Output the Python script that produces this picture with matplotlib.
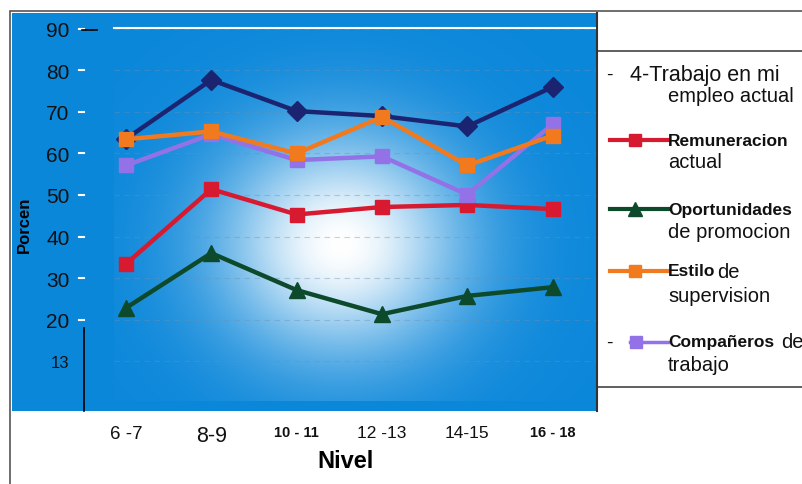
import numpy as np
import matplotlib
matplotlib.use("Agg")
import matplotlib.pyplot as plt
from matplotlib.lines import Line2D
from matplotlib.patches import Rectangle
import matplotlib.transforms as mtransforms

plt.rcParams['font.family'] = ['Liberation Sans', 'DejaVu Sans']

categories = ["6 -7", "8-9", "10 - 11", "12 -13", "14-15", "16 - 18"]
bold_cats = [False, False, True, False, False, True]
cat_sizes = [13.5, 15.5, 10.5, 12.5, 12.5, 10.5]
trabajo = [63.5, 77.7, 70.2, 69.0, 66.5, 76.0]
remuneracion = [33.4, 51.4, 45.3, 47.1, 47.6, 46.6]
oportunidades = [22.8, 36.0, 27.1, 21.3, 25.7, 27.8]
estilo = [63.4, 65.3, 60.0, 68.8, 57.1, 64.3]
companeros = [57.1, 64.6, 58.4, 59.3, 50.1, 67.0]
yticks = [10, 20, 30, 40, 50, 60, 70, 80, 90]
ytick_labels = ["13", "20", "30", "40", "50", "60", "70", "80", "90"]

BLUE = "#0b87da"
NAVY = "#1b2470"
RED = "#d81a30"
GREEN = "#0d4a2c"
ORANGE = "#f27a1e"
PURPLE = "#9272e6"

W, H = 803, 485
fig = plt.figure(figsize=(W / 100, H / 100), dpi=100)
fig.patch.set_facecolor("white")

def fx(x):
    return x / W

def fy(y):
    return 1 - y / H

# outer frame
fig.add_artist(Rectangle((fx(10), fy(490)), fx(800), fy(12) - fy(490), transform=fig.transFigure,
                         facecolor="none", edgecolor="#555555", lw=1.2))
# blue panel
bg = fig.add_axes([fx(12), fy(412), fx(597 - 12), fy(14) - fy(412)])
bg.set_facecolor(BLUE)
bg.set_xticks([]); bg.set_yticks([])
for s in bg.spines.values():
    s.set_visible(False)

ax = fig.add_axes([fx(114), fy(402), fx(597 - 114), fy(29) - fy(402)])
ax.set_facecolor(BLUE)

# radial gradient
nx, ny = 400, 300
xx, yy = np.meshgrid(np.linspace(0, 1, nx), np.linspace(0, 1, ny))
cx, cy = 0.47, 0.42
w = np.exp(-(((xx - cx) / 0.36) ** 2 + ((yy - cy) / 0.42) ** 2) * 2.0)
base = np.array(matplotlib.colors.to_rgb(BLUE))
img = base[None, None, :] * (1 - w[..., None]) + np.ones(3)[None, None, :] * w[..., None]
ax.imshow(img, extent=[0, 1, 0, 1], transform=ax.transAxes, origin="lower",
          aspect="auto", zorder=0)

x = np.arange(len(categories))
ax.set_xlim(-0.14, 5.52)
ax.set_ylim(0.4, 90.2)

for yv in yticks:
    ax.axhline(yv, color="#6f8fb0", lw=0.8, ls=(0, (5, 4)), alpha=0.4, zorder=1)

ax.plot(x, trabajo, color=NAVY, lw=3.2, marker="D", ms=10, zorder=3)
ax.plot(x, oportunidades, color=GREEN, lw=3.2, marker="^", ms=11, zorder=3)
ax.plot(x, remuneracion, color=RED, lw=3.2, marker="s", ms=10, zorder=4)
ax.plot(x, companeros, color=PURPLE, lw=3.2, marker="s", ms=10, zorder=4)
ax.plot(x, estilo, color=ORANGE, lw=3.2, marker="s", ms=10, zorder=5)

ax.set_xticks(x)
ax.set_xticklabels(categories)
for lab, b, fsz in zip(ax.get_xticklabels(), bold_cats, cat_sizes):
    lab.set_fontsize(fsz)
    if b:
        lab.set_fontweight("bold")
ax.tick_params(axis="x", length=0, pad=17, colors="#111111")
ax.set_yticks(yticks)
ax.set_yticklabels(ytick_labels)
for lab in ax.get_yticklabels():
    lab.set_fontsize(15 if lab.get_text() != "13" else 12)
ax.tick_params(axis="y", length=0, pad=32, colors="#111111")
for k, s in ax.spines.items():
    s.set_visible(False)
ax.plot([0, 1], [1, 1], transform=ax.transAxes, color="white", lw=1.5, clip_on=False, zorder=6)

# small tick dashes
btr = mtransforms.blended_transform_factory(ax.transAxes, ax.transData)
for yv in yticks[1:]:
    ax.plot([-0.072, -0.062], [yv, yv], transform=btr, color="white", lw=1.5, clip_on=False)
fig.add_artist(Line2D([fx(82), fx(97)], [fy(31), fy(31)], color="black", lw=1.2))
fig.add_artist(Line2D([fx(84), fx(84)], [fy(329), fy(412)], color="black", lw=1.2))

fig.text(fx(24), fy(225), "Porcen", rotation=90, fontsize=12, fontweight="bold",
         ha="center", va="center", color="black")
fig.text(fx(346), fy(462), "Nivel", fontsize=17, fontweight="bold", ha="center", va="center")

# legend box
fig.add_artist(Line2D([fx(597), fx(803)], [fy(52), fy(52)], color="#444444", lw=1.2))
fig.add_artist(Line2D([fx(597), fx(803)], [fy(388), fy(388)], color="#444444", lw=1.2))
fig.add_artist(Line2D([fx(597), fx(597)], [fy(14), fy(412)], color="#333333", lw=1.5))

def ltext(xp, yp, s, bold=False, size=14):
    return fig.text(fx(xp), fy(yp), s, fontsize=size, fontweight="bold" if bold else "normal",
                    ha="left", va="center", color="#111111")

ltext(606, 75, "-")
ltext(630, 75, "4-Trabajo en mi", size=15.5)
ltext(668, 97, "empleo actual", size=14.5)

def lsample(yp, color, marker, ms):
    fig.add_artist(Line2D([fx(610), fx(668)], [fy(yp), fy(yp)], color=color, lw=3))
    fig.add_artist(Line2D([fx(635)], [fy(yp)], color=color, marker=marker, ms=ms, lw=0))

lsample(141, RED, "s", 9)
ltext(668, 141, "Remuneracion", bold=True, size=12.5)
ltext(668, 163, "actual", size=14.5)

lsample(210, GREEN, "^", 10)
ltext(668, 210, "Oportunidades", bold=True, size=12.5)
ltext(668, 233, "de promocion", size=14.5)

lsample(272, ORANGE, "s", 9)
ltext(668, 272, "Estilo", bold=True, size=12.5)
ltext(717, 272, "de", size=14.5)
ltext(668, 296, "supervision", size=14.5)

ltext(606, 343, "-")
fig.add_artist(Line2D([fx(630), fx(668)], [fy(343), fy(343)], color=PURPLE, lw=2.5))
fig.add_artist(Line2D([fx(636)], [fy(343)], color=PURPLE, marker="s", ms=9, lw=0))
ltext(668, 343, "Compañeros", bold=True, size=12.5)
ltext(781, 343, "de", size=14.5)
ltext(668, 366, "trabajo", size=14.5)

fig.savefig("out.png", dpi=100)
